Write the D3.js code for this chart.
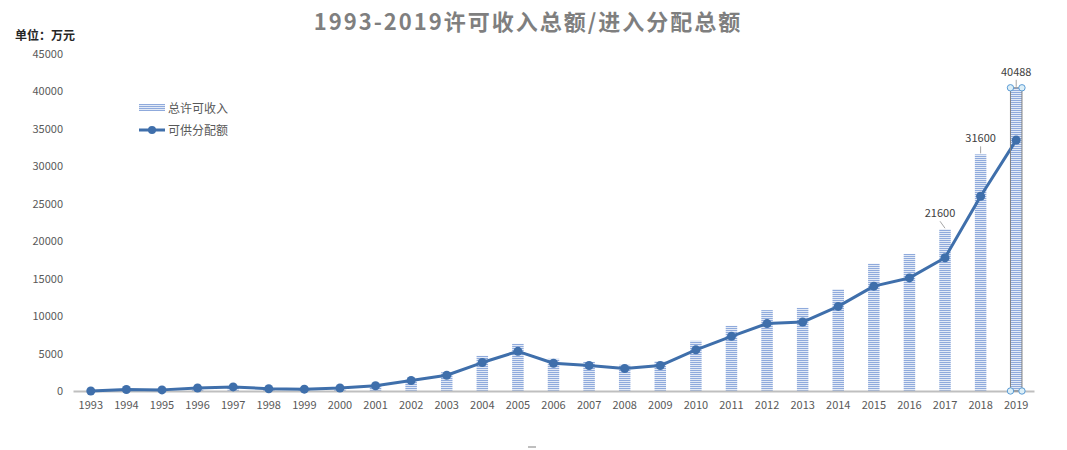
<!DOCTYPE html>
<html>
<head>
<meta charset="utf-8">
<script src="https://cdn.jsdelivr.net/npm/d3@7"></script>
<style>
  body { margin: 0; background: #fff; }
  text { font-family: "Microsoft YaHei", "Noto Sans CJK SC", sans-serif; }
</style>
</head>
<body>
<svg width="1067" height="450"></svg>
<script>
const years = ['1993','1994','1995','1996','1997','1998','1999','2000','2001','2002','2003','2004','2005','2006','2007','2008','2009','2010','2011','2012','2013','2014','2015','2016','2017','2018','2019'];
// 总许可收入
const licenseIncome = [0, 200, 150, 400, 550, 300, 250, 400, 750, 1600, 2500, 4700, 6300, 4300, 3900, 3500, 4000, 6700, 8700, 10800, 11100, 13600, 17000, 18300, 21600, 31600, 40488];
// 可供分配额
const distributable = [0, 200, 150, 400, 550, 300, 250, 400, 700, 1400, 2100, 3800, 5300, 3700, 3400, 3000, 3400, 5500, 7300, 9000, 9200, 11300, 14000, 15100, 17800, 26000, 33500];
const yTicks = [0, 5000, 10000, 15000, 20000, 25000, 30000, 35000, 40000, 45000];
const labelled = ['2017', '2018', '2019'];

const svg = d3.select('svg');
const barColor = '#8FAADC';
const lineColor = '#3F6FAB';
const fontFam = '"Microsoft YaHei", "Noto Sans CJK SC", sans-serif';

const defs = svg.append('defs');
const pat = defs.append('pattern')
    .attr('id', 'stripes')
    .attr('patternUnits', 'userSpaceOnUse')
    .attr('width', 4)
    .attr('height', 2);
pat.append('rect').attr('width', 4).attr('height', 2).attr('fill', '#E3EAF6');
pat.append('rect').attr('width', 4).attr('height', 1).attr('fill', barColor);

const x = d3.scaleBand()
    .domain(years)
    .range([73, 1034]);

const y = d3.scaleLinear()
    .domain([0, 45000])
    .range([391, 54]);

// title
svg.append('text')
    .attr('x', 528)
    .attr('y', 30)
    .attr('text-anchor', 'middle')
    .attr('font-size', 22)
    .attr('font-weight', 'bold')
    .attr('letter-spacing', 2)
    .attr('fill', '#7F7F7F')
    .text('1993-2019许可收入总额/进入分配总额');

svg.append('text')
    .attr('x', 15)
    .attr('y', 40)
    .attr('font-size', 12)
    .attr('font-weight', 'bold')
    .attr('fill', '#262626')
    .text('单位：万元');

// y axis labels
const yAxis = svg.append('g')
    .attr('transform', 'translate(63,0)')
    .call(d3.axisLeft(y).tickValues(yTicks).tickFormat(d3.format('d')).tickSize(0).tickPadding(0));
yAxis.select('.domain').remove();
yAxis.selectAll('text')
    .attr('font-size', 11)
    .attr('fill', '#595959')
    .style('font-family', fontFam);

// bars
const barW = 11.5;
svg.append('g').selectAll('rect')
    .data(years)
    .join('rect')
    .attr('x', (d) => x(d) + x.bandwidth() / 2 - barW / 2)
    .attr('y', (d, i) => y(licenseIncome[i]))
    .attr('width', barW)
    .attr('height', (d, i) => y(0) - y(licenseIncome[i]))
    .attr('fill', 'url(#stripes)');

// x axis
const xAxis = svg.append('g')
    .attr('transform', `translate(0,${y(0)})`)
    .call(d3.axisBottom(x).tickSize(0).tickPadding(10));
xAxis.select('.domain')
    .attr('stroke', '#BFBFBF')
    .attr('stroke-width', 2);
xAxis.selectAll('text')
    .attr('font-size', 11)
    .attr('fill', '#595959')
    .style('font-family', fontFam);

// line
const line = d3.line()
    .x((d, i) => x(years[i]) + x.bandwidth() / 2)
    .y((d) => y(d));

svg.append('path')
    .datum(distributable)
    .attr('d', line)
    .attr('fill', 'none')
    .attr('stroke', lineColor)
    .attr('stroke-width', 3)
    .attr('stroke-linejoin', 'round');

svg.append('g').selectAll('circle')
    .data(distributable)
    .join('circle')
    .attr('cx', (d, i) => x(years[i]) + x.bandwidth() / 2)
    .attr('cy', (d) => y(d))
    .attr('r', 4.5)
    .attr('fill', lineColor);

// data labels with leader lines
labelled.forEach((yr) => {
    const i = years.indexOf(yr);
    const v = licenseIncome[i];
    const cx = x(yr) + x.bandwidth() / 2;
    const off = yr === '2017' ? -5 : 0;
    svg.append('line')
        .attr('x1', cx + off)
        .attr('y1', y(v) - 8)
        .attr('x2', cx)
        .attr('y2', y(v) - 1)
        .attr('stroke', '#A6A6A6')
        .attr('stroke-width', 1);
    svg.append('text')
        .attr('x', cx + off)
        .attr('y', y(v) - 12)
        .attr('text-anchor', 'middle')
        .attr('font-size', 11)
        .attr('fill', '#404040')
        .text(v);
});

// selection outline on the last bar
const last = years[years.length - 1];
const lx0 = x(last) + x.bandwidth() / 2 - barW / 2;
const lx1 = lx0 + barW;
const ly0 = y(licenseIncome[licenseIncome.length - 1]);
const ly1 = y(0);
svg.append('rect')
    .attr('x', lx0)
    .attr('y', ly0)
    .attr('width', barW)
    .attr('height', ly1 - ly0)
    .attr('fill', 'none')
    .attr('stroke', '#808080')
    .attr('stroke-width', 1);
[[lx0, ly0], [lx1, ly0], [lx0, ly1], [lx1, ly1]].forEach(([cx, cy]) => {
    svg.append('circle')
        .attr('cx', cx)
        .attr('cy', cy)
        .attr('r', 3.2)
        .attr('fill', '#DDEFF7')
        .attr('stroke', '#5B9BD5')
        .attr('stroke-width', 1);
});

// legend
const legend = svg.append('g').attr('transform', 'translate(139,0)');
legend.append('rect')
    .attr('x', 0)
    .attr('y', 104)
    .attr('width', 26)
    .attr('height', 7)
    .attr('fill', 'url(#stripes)');
legend.append('text')
    .attr('x', 29)
    .attr('y', 113)
    .attr('font-size', 12)
    .attr('fill', '#595959')
    .text('总许可收入');
legend.append('line')
    .attr('x1', 0)
    .attr('x2', 26)
    .attr('y1', 130)
    .attr('y2', 130)
    .attr('stroke', lineColor)
    .attr('stroke-width', 3);
legend.append('circle')
    .attr('cx', 13)
    .attr('cy', 130)
    .attr('r', 4)
    .attr('fill', lineColor);
legend.append('text')
    .attr('x', 29)
    .attr('y', 135)
    .attr('font-size', 12)
    .attr('fill', '#595959')
    .text('可供分配额');

// small resize handle of the chart area
svg.append('rect').attr('x', 528).attr('y', 446).attr('width', 8).attr('height', 2).attr('fill', '#BFBFBF');
</script>
</body>
</html>
